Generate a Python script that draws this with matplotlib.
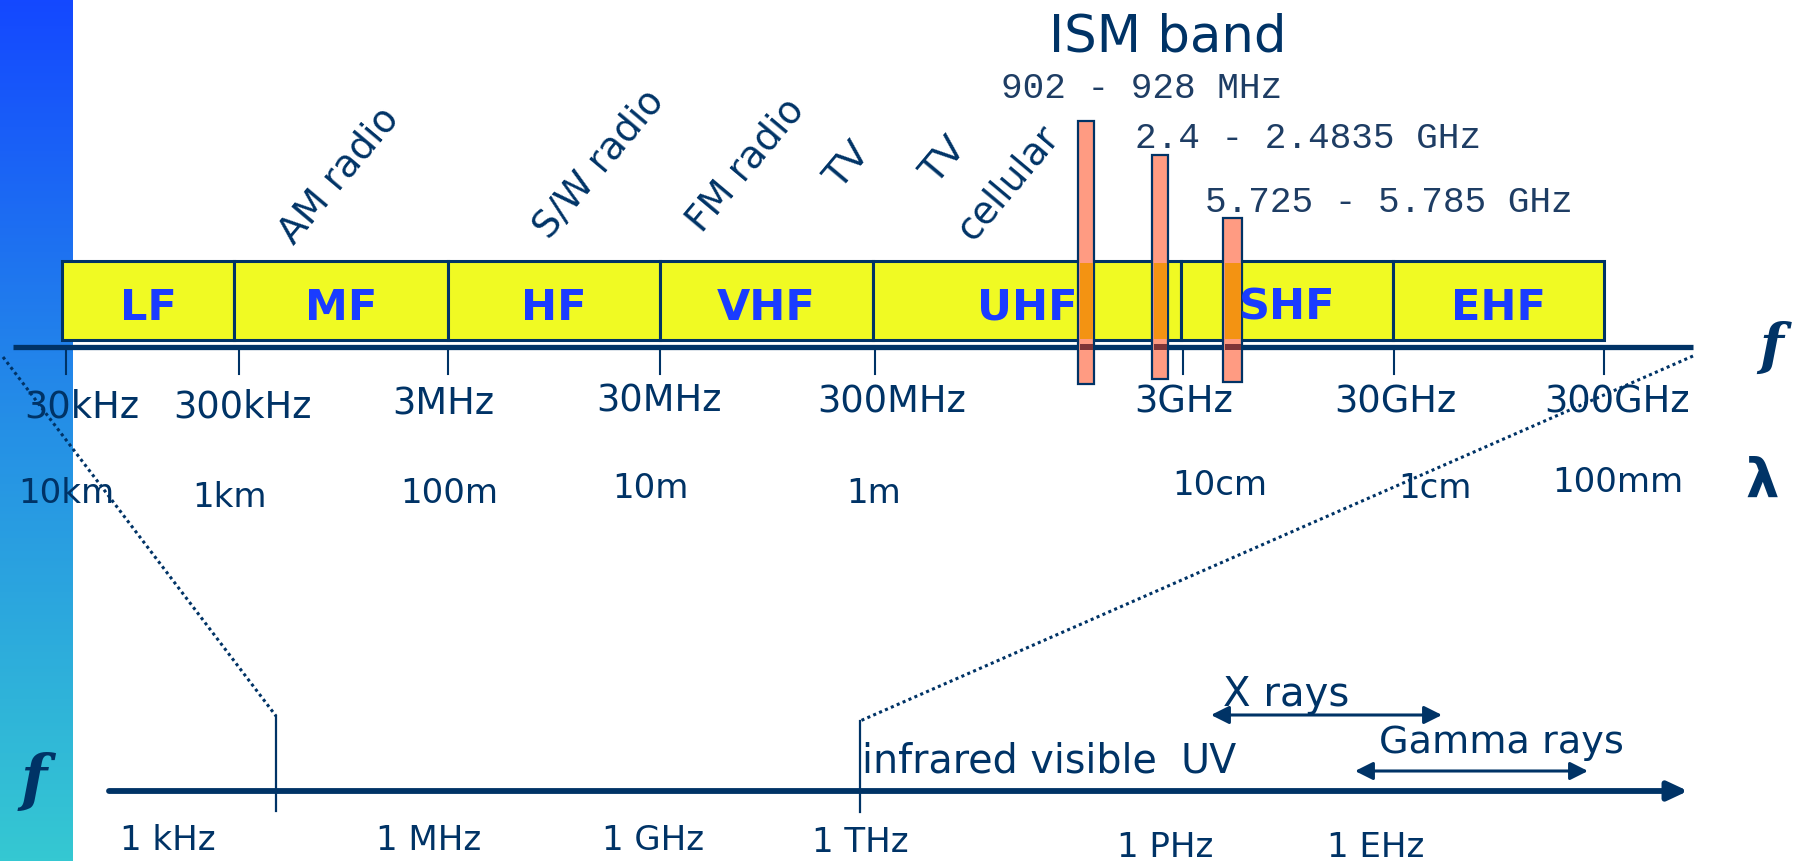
import numpy as np
import matplotlib
matplotlib.use('Agg')
import matplotlib.pyplot as plt
from matplotlib.patches import Rectangle
from matplotlib.colors import LinearSegmentedColormap

# --- content ---
band_names = ['LF', 'MF', 'HF', 'VHF', 'UHF', 'SHF', 'EHF']
freq_labels = ['30kHz', '300kHz', '3MHz', '30MHz', '300MHz', '3GHz', '30GHz', '300GHz']
wave_labels = ['10km', '1km', '100m', '10m', '1m', '10cm', '1cm', '100mm']
services = ['AM radio', 'S/W radio', 'FM radio', 'TV', 'TV', 'cellular']
ism_labels = ['902 - 928 MHz', '2.4 - 2.4835 GHz', '5.725 - 5.785 GHz']
wide_labels = ['1 kHz', '1 MHz', '1 GHz', '1 THz', '1 PHz', '1 EHz']

# --- layout (pixel positions on the slide) ---
band_edges_x = [62, 234, 448, 660, 873, 1181, 1393, 1604]
box_top, box_bot = 262, 341
axis_y = 348
tick_x = [66, 239, 448, 660, 875, 1183, 1394, 1604]
freq_pos = [(82, 418), (243, 418), (443, 415), (659, 412), (892, 413),
            (1184, 413), (1395, 413), (1617, 413)]
wave_pos = [(66, 503), (230, 507), (449, 503), (650, 498), (874, 503),
            (1220, 495), (1435, 498), (1618, 492)]
service_pos = [(339, 176), (600, 165), (746, 165), (848, 166), (944, 161), (1009, 183)]
ism_x = [(1078, 1094), (1152, 1168), (1223, 1242)]
ism_top = [122, 156, 219]
ism_bot = [385, 380, 383]
ism_text_pos = [(1001, 98), (1135, 148), (1205, 212)]
wide_pos = [(168, 850), (429, 850), (653, 850), (860, 852), (1165, 857), (1376, 857)]
low_axis_y = 792

NAVY = '#003366'
YELLOW = '#f0fa23'
BLUE = '#1a3cff'
SALMON = '#ff9b82'
ORANGE = '#f39312'
DARKRED = '#7c3438'
TXT = 'DejaVu Sans'

fig = plt.figure(figsize=(17.93, 8.62), dpi=100)
ax = fig.add_axes([0, 0, 1, 1])
ax.set_xlim(0, 1793)
ax.set_ylim(862, 0)
ax.axis('off')

# side bar gradient
cmap = LinearSegmentedColormap.from_list('side', ['#1448ff', '#2590e6', '#35c8d2'])
grad = np.linspace(0, 1, 256).reshape(-1, 1)
ax.imshow(grad, cmap=cmap, extent=[0, 73, 862, 0], aspect='auto', zorder=0)

# band boxes
for i, name in enumerate(band_names):
    x0, x1 = band_edges_x[i], band_edges_x[i + 1]
    ax.add_patch(Rectangle((x0, box_top), x1 - x0, box_bot - box_top,
                           facecolor=YELLOW, edgecolor=NAVY, lw=2.2, zorder=1))
    ax.text((x0 + x1) / 2, 320, name, color=BLUE, fontsize=31, fontweight='bold',
            family=TXT, ha='center', va='baseline', zorder=6)

# main frequency axis
ax.plot([13, 1693], [axis_y, axis_y], color=NAVY, lw=3.8, solid_capstyle='butt', zorder=2)
for x in tick_x:
    ax.plot([x, x], [351, 375], color=NAVY, lw=1.5, zorder=2)

for lab, (x, y) in zip(freq_labels, freq_pos):
    ax.text(x, y, lab, color=NAVY, fontsize=26.5, family=TXT, ha='center', va='baseline', zorder=5)
for lab, (x, y) in zip(wave_labels, wave_pos):
    ax.text(x, y, lab, color=NAVY, fontsize=24.5, family=TXT, ha='center', va='baseline', zorder=5)

# services (rotated)
for lab, (x, y) in zip(services, service_pos):
    ax.text(x, y, lab, color=NAVY, fontsize=27, family=TXT, rotation=50,
            ha='center', va='center', zorder=5)

# ISM bars
for (x0, x1), t, b in zip(ism_x, ism_top, ism_bot):
    ax.add_patch(Rectangle((x0, t), x1 - x0, b - t, facecolor=SALMON,
                           edgecolor=NAVY, lw=1.6, zorder=3))
    ax.add_patch(Rectangle((x0 + 1.5, box_top + 1.5), x1 - x0 - 3, box_bot - box_top - 3,
                           facecolor=ORANGE, edgecolor='none', zorder=4))
    ax.add_patch(Rectangle((x0 + 1.5, axis_y - 2.6), x1 - x0 - 3, 5.2,
                           facecolor=DARKRED, edgecolor='none', zorder=4))

ax.text(1168, 52, 'ISM band', color=NAVY, fontsize=37, family=TXT,
        ha='center', va='baseline', zorder=5)
for lab, (x, y) in zip(ism_labels, ism_text_pos):
    ax.text(x, y, lab, color='#1e3d64', fontsize=26, family='Liberation Mono',
            ha='left', va='baseline', zorder=5)

ax.text(1771, 348, 'f', color=NAVY, fontsize=40, family='DejaVu Serif',
        fontweight='bold', style='italic', ha='center', va='center', zorder=5)
ax.text(1762, 482, 'λ', color=NAVY, fontsize=38, family=TXT,
        fontweight='bold', ha='center', va='center', zorder=5)

# zoom lines
ax.plot([3, 276], [358, 717], color=NAVY, lw=2.2, ls=(0, (1, 1.1)), zorder=2)
ax.plot([1693, 860], [357, 722], color=NAVY, lw=2.2, ls=(0, (1, 1.1)), zorder=2)

# wide spectrum axis
ax.annotate('', xy=(1688, low_axis_y), xytext=(109, low_axis_y),
            arrowprops=dict(arrowstyle='-|>,head_length=0.6,head_width=0.28',
                            color=NAVY, lw=4.2, mutation_scale=20, shrinkA=0, shrinkB=0),
            zorder=2)
ax.plot([276, 276], [717, 812], color=NAVY, lw=1.6, zorder=2)
ax.plot([860, 860], [722, 813], color=NAVY, lw=1.6, zorder=2)

for lab, (x, y) in zip(wide_labels, wide_pos):
    ax.text(x, y, lab, color=NAVY, fontsize=24.5, family=TXT, ha='center', va='baseline', zorder=5)

ax.text(862, 773, 'infrared visible', color=NAVY, fontsize=28.5, family=TXT,
        ha='left', va='baseline', zorder=5)
ax.text(1180, 773, 'UV', color=NAVY, fontsize=28.5, family=TXT,
        ha='left', va='baseline', zorder=5)
ax.text(1223, 706, 'X rays', color=NAVY, fontsize=29, family=TXT,
        ha='left', va='baseline', zorder=5)
ax.text(1379, 753, 'Gamma rays', color=NAVY, fontsize=27.5, family=TXT,
        ha='left', va='baseline', zorder=5)
for (x0, x1, y) in [(1211, 1442, 716), (1355, 1588, 772)]:
    ax.annotate('', xy=(x1, y), xytext=(x0, y),
                arrowprops=dict(arrowstyle='<|-|>,head_length=0.6,head_width=0.3',
                                color=NAVY, lw=2.2, mutation_scale=18, shrinkA=0, shrinkB=0),
                zorder=3)

ax.text(34, 782, 'f', color=NAVY, fontsize=44, family='DejaVu Serif',
        fontweight='bold', style='italic', ha='center', va='center', zorder=5)

fig.savefig('out.png', dpi=100)
